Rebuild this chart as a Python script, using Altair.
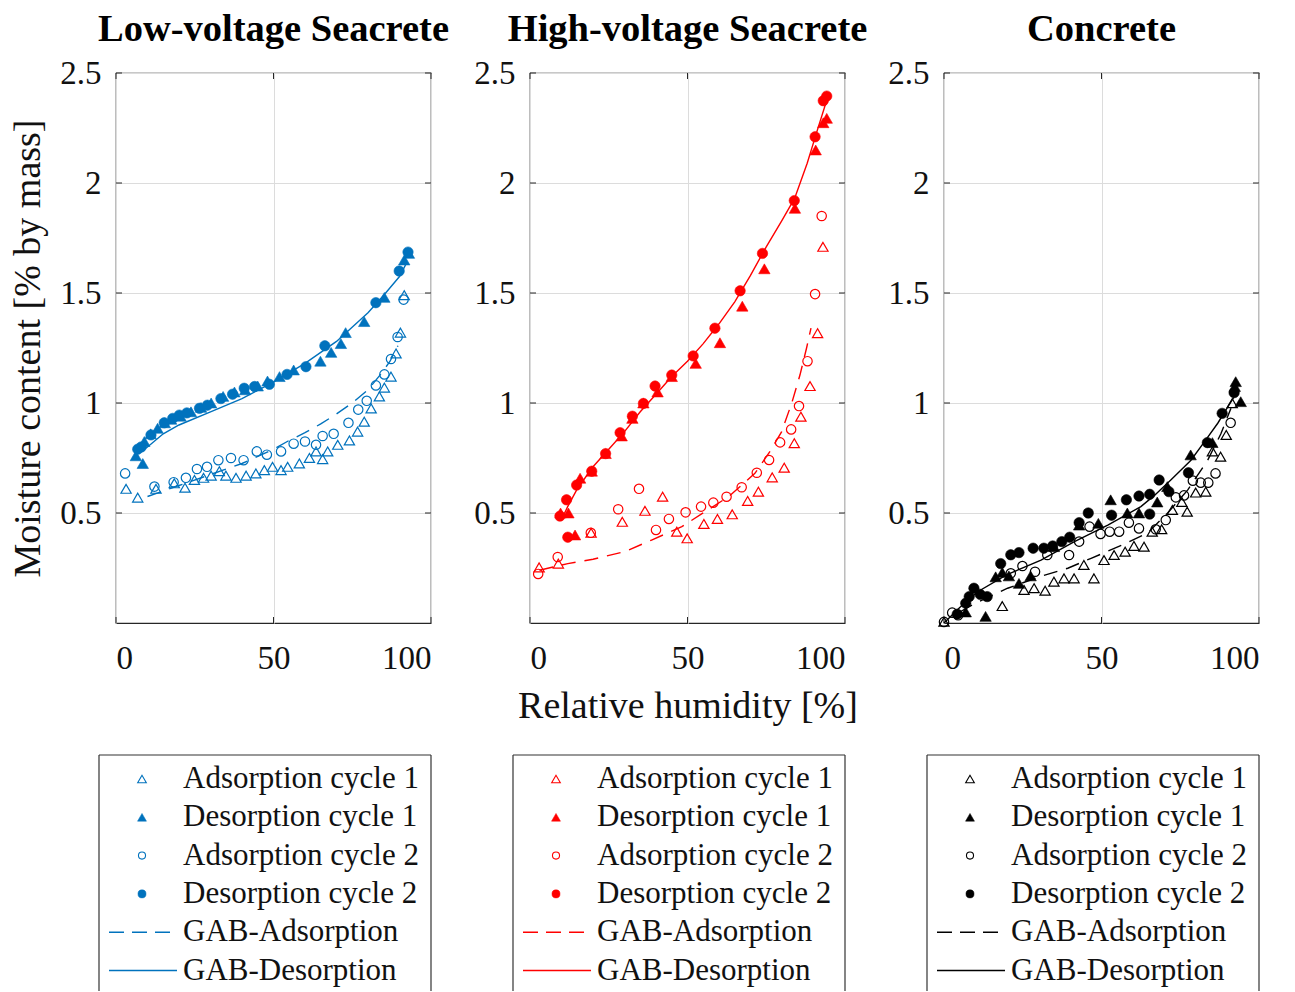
import altair as alt
import pandas as pd

FONT = "Liberation Serif"

# ---------------- Low-voltage Seacrete (blue) ----------------
lv_ads1_rh = [3.2, 6.9, 12.7, 18.5, 21.9, 24.9, 27.8, 30.2, 32.8, 34.9, 38.1, 41.3, 44.4, 47.1, 49.7, 52.4, 54.5,
              58.2, 61.4, 63.5, 65.6, 67.2, 70.4, 74.1, 76.7, 78.8, 81.0, 83.6, 85.2, 87.3, 88.9, 90.3, 91.5]
lv_ads1_mc = [0.61, 0.57, 0.61, 0.635, 0.615, 0.65, 0.66, 0.67, 0.69, 0.67, 0.66, 0.67, 0.68, 0.695, 0.71, 0.695, 0.71,
              0.725, 0.75, 0.78, 0.745, 0.78, 0.81, 0.83, 0.87, 0.915, 0.975, 1.03, 1.07, 1.12, 1.225, 1.32, 1.49]
lv_des1_rh = [6.3, 8.5, 9.0, 11.0, 13.2, 15.5, 17.5, 20.5, 23.8, 27.0, 30.2, 34.0, 37.6, 41.0, 45.0, 48.1, 51.9,
              56.4, 64.9, 68.3, 71.4, 72.9, 78.8, 85.2, 91.5, 93.0]
lv_des1_mc = [0.76, 0.725, 0.825, 0.86, 0.885, 0.91, 0.926, 0.94, 0.96, 0.98, 1.0, 1.03, 1.05, 1.06, 1.077, 1.10, 1.12,
              1.15, 1.19, 1.23, 1.27, 1.32, 1.37, 1.48, 1.65, 1.68]
lv_ads2_rh = [2.9, 12.2, 18.3, 22.2, 25.7, 28.9, 32.5, 36.5, 40.5, 44.7, 47.9, 52.4, 56.4, 60.0, 63.5, 65.6, 69.1,
              73.8, 76.9, 79.6, 82.5, 85.2, 87.3, 89.4, 91.3]
lv_ads2_mc = [0.68, 0.62, 0.64, 0.66, 0.70, 0.71, 0.74, 0.75, 0.74, 0.78, 0.765, 0.78, 0.815, 0.825, 0.81, 0.85, 0.86,
              0.91, 0.97, 1.01, 1.08, 1.13, 1.20, 1.30, 1.47]
lv_des2_rh = [6.9, 8.0, 11.1, 15.3, 18.0, 20.1, 22.5, 26.5, 29.0, 33.3, 37.0, 40.7, 44.0, 48.7, 54.3, 60.3, 66.3,
              82.5, 89.9, 92.7]
lv_des2_mc = [0.79, 0.80, 0.855, 0.91, 0.93, 0.945, 0.955, 0.976, 0.99, 1.02, 1.04, 1.067, 1.075, 1.085, 1.13, 1.165,
              1.26, 1.456, 1.60, 1.686]
lv_gab_ads_rh = [10, 20, 30, 40, 50, 55, 60, 65, 70, 75, 80, 84, 87, 89.5]
lv_gab_ads_mc = [0.575, 0.625, 0.675, 0.725, 0.79, 0.83, 0.865, 0.905, 0.95, 1.0, 1.06, 1.13, 1.19, 1.26]
lv_gab_des_rh = [8, 10, 15, 20, 30, 40, 50, 60, 70, 80, 85, 90, 92]
lv_gab_des_mc = [0.78, 0.80, 0.86, 0.90, 0.96, 1.02, 1.095, 1.18, 1.28, 1.41, 1.49, 1.575, 1.63]

# ---------------- High-voltage Seacrete (red) ----------------
hv_ads1_rh = [2.9, 9.0, 19.4, 29.3, 36.5, 42.1, 46.6, 49.9, 55.2, 59.5, 64.2, 69.1, 72.5, 76.9, 80.7, 83.9, 86.0,
              88.9, 91.3, 93.0]
hv_ads1_mc = [0.253, 0.27, 0.41, 0.46, 0.51, 0.574, 0.415, 0.385, 0.45, 0.473, 0.494, 0.555, 0.597, 0.662, 0.706,
              0.817, 0.938, 1.077, 1.317, 1.71]
hv_des1_rh = [9.7, 12.2, 14.3, 15.9, 19.6, 24.0, 29.1, 32.5, 36.0, 40.5, 45.0, 52.6, 60.3, 67.4, 74.4, 84.1, 90.7,
              93.1, 94.2]
hv_des1_mc = [0.50, 0.50, 0.40, 0.658, 0.69, 0.77, 0.85, 0.93, 1.0, 1.05, 1.12, 1.18, 1.274, 1.44, 1.61, 1.885, 2.15,
              2.274, 2.294]
hv_ads2_rh = [2.6, 8.8, 19.3, 28.0, 34.6, 40.0, 44.1, 49.4, 54.3, 58.2, 62.4, 67.2, 72.0, 75.9, 79.4, 82.9, 85.4,
              88.1, 90.5, 92.6]
hv_ads2_mc = [0.223, 0.30, 0.41, 0.517, 0.61, 0.423, 0.473, 0.503, 0.529, 0.547, 0.574, 0.617, 0.683, 0.741, 0.821,
              0.88, 0.986, 1.19, 1.495, 1.85]
hv_des2_rh = [9.5, 11.6, 12.0, 14.8, 19.6, 24.0, 28.6, 32.5, 36.0, 39.7, 45.0, 51.8, 58.7, 66.7, 73.8, 83.9, 90.5,
              93.1, 94.2]
hv_des2_mc = [0.486, 0.56, 0.39, 0.627, 0.69, 0.77, 0.865, 0.94, 0.998, 1.077, 1.127, 1.214, 1.34, 1.51, 1.68, 1.92,
              2.21, 2.374, 2.395]
hv_gab_ads_rh = [3, 12, 20, 30, 38.6, 48.2, 55.6, 63, 71.4, 76.2, 79.9, 83.1, 85.7, 87.8, 89.2]
hv_gab_ads_mc = [0.24, 0.27, 0.29, 0.324, 0.377, 0.438, 0.506, 0.574, 0.68, 0.78, 0.87, 1.0, 1.127, 1.25, 1.34]
hv_gab_des_rh = [10, 12, 15, 20, 25, 30, 35, 40, 45, 50, 55, 60, 65, 70, 75, 80, 84, 88, 91, 94.5]
hv_gab_des_mc = [0.47, 0.53, 0.61, 0.71, 0.79, 0.87, 0.96, 1.04, 1.12, 1.19, 1.27, 1.36, 1.46, 1.58, 1.71, 1.83,
                 1.93, 2.09, 2.23, 2.39]

# ---------------- Concrete (black) ----------------
cc_ads1_rh = [0.0, 18.5, 25.4, 28.6, 32.1, 34.9, 38.1, 41.3, 44.4, 47.6, 50.8, 54.0, 57.5, 60.3, 63.5, 66.1, 69.1,
              72.5, 75.5, 77.2, 79.9, 83.1, 85.2, 87.8, 89.6, 91.5]
cc_ads1_mc = [0.006, 0.077, 0.15, 0.158, 0.147, 0.188, 0.203, 0.203, 0.264, 0.203, 0.286, 0.309, 0.324, 0.35, 0.347,
              0.415, 0.426, 0.514, 0.55, 0.506, 0.593, 0.597, 0.78, 0.756, 0.855, 0.999]
cc_des1_rh = [6.9, 13.2, 16.4, 18.5, 20.6, 23.8, 27.5, 34.9, 42.9, 49.0, 52.9, 58.2, 61.9, 67.7, 70.9, 78.3, 85.2,
              92.3, 92.6, 94.2]
cc_des1_mc = [0.05, 0.03, 0.21, 0.23, 0.214, 0.18, 0.214, 0.347, 0.445, 0.453, 0.56, 0.50, 0.50, 0.55, 0.62, 0.764,
              0.82, 1.075, 1.097, 1.006]
cc_ads2_rh = [0.0, 2.6, 4.5, 21.2, 24.9, 28.9, 32.8, 39.7, 42.9, 46.2, 49.7, 52.6, 55.6, 58.7, 61.9, 67.2, 70.4,
              73.6, 76.2, 79.0, 81.5, 83.9, 86.2, 91.0]
cc_ads2_mc = [0.005, 0.047, 0.035, 0.226, 0.259, 0.233, 0.309, 0.309, 0.37, 0.438, 0.405, 0.415, 0.415, 0.456, 0.43,
              0.426, 0.468, 0.571, 0.58, 0.647, 0.638, 0.638, 0.68, 0.91]
cc_des2_rh = [4.2, 6.9, 8.0, 9.5, 11.5, 13.7, 18.0, 21.2, 23.8, 28.3, 31.7, 34.5, 37.4, 39.9, 42.9, 45.8, 53.2, 57.9,
              61.9, 65.3, 65.3, 68.3, 71.4, 77.6, 83.6, 88.3, 92.1]
cc_des2_mc = [0.04, 0.09, 0.12, 0.158, 0.13, 0.12, 0.27, 0.31, 0.32, 0.34, 0.34, 0.35, 0.37, 0.39, 0.456, 0.50, 0.49,
              0.56, 0.577, 0.585, 0.495, 0.65, 0.597, 0.683, 0.82, 0.953, 1.047]
cc_gab_ads_rh = [5, 10, 20.2, 30.3, 39.3, 46.7, 56.7, 64.7, 71, 77.4, 83.7, 87.9, 91.1]
cc_gab_ads_mc = [0.05, 0.09, 0.158, 0.21, 0.249, 0.294, 0.355, 0.41, 0.5, 0.605, 0.74, 0.86, 0.976]
cc_gab_des_rh = [0, 5, 10.7, 20, 30.8, 41.4, 52, 62.5, 66.8, 72, 78.4, 83, 86.9, 90, 92.2]
cc_gab_des_mc = [0.0, 0.07, 0.142, 0.22, 0.286, 0.37, 0.445, 0.529, 0.58, 0.65, 0.74, 0.83, 0.908, 0.98, 1.03]

x_ticks = [0, 50, 100]
y_ticks = [0.5, 1, 1.5, 2, 2.5]
legend_labels = ["Adsorption cycle 1", "Desorption cycle 1", "Adsorption cycle 2", "Desorption cycle 2",
                 "GAB-Adsorption", "GAB-Desorption"]

panel_titles = ["Low-voltage Seacrete", "High-voltage Seacrete", "Concrete"]
panel_colors = ["#0072BD", "#FF0000", "#000000"]

W, H = 315, 550
LH = 236
AXC = "#262626"


def xy_df(rh, mc):
    return pd.DataFrame({"rh": rh, "mc": mc})


def make_panel(idx, s):
    color = panel_colors[idx]
    xt = "Relative humidity [%]" if idx == 1 else None
    yt = "Moisture content [% by mass]" if idx == 0 else None
    x_axis = alt.Axis(values=x_ticks, format="d", grid=True, gridColor="#dcdcdc", gridWidth=1, ticks=False,
                      domain=False, labelFont=FONT, labelFontSize=33, labelColor="#111", labelPadding=19,
                      title=xt, titleFont=FONT, titleFontSize=38, titleFontWeight="normal", titleColor="#111",
                      titlePadding=12)
    y_axis = alt.Axis(values=y_ticks, format="~g", grid=True, gridColor="#dcdcdc", gridWidth=1, ticks=False,
                      domain=False, labelFont=FONT, labelFontSize=33, labelColor="#111", labelPadding=15,
                      title=yt, titleFont=FONT, titleFontSize=38, titleFontWeight="normal", titleColor="#111",
                      titlePadding=12)
    X = alt.X("rh:Q", scale=alt.Scale(domain=[0, 100], nice=False), axis=x_axis)
    Y = alt.Y("mc:Q", scale=alt.Scale(domain=[0, 2.5], nice=False), axis=y_axis)

    def pts(rh, mc, shape, filled, size):
        if filled:
            m = alt.Chart(xy_df(rh, mc)).mark_point(shape=shape, filled=True, fill=color, stroke=color,
                                                     strokeWidth=0.6, size=size, opacity=1)
        else:
            m = alt.Chart(xy_df(rh, mc)).mark_point(shape=shape, filled=False, stroke=color,
                                                     strokeWidth=1.2, size=size, opacity=1)
        return m.encode(x=X, y=Y)

    def line(rh, mc, dash):
        if dash:
            m = alt.Chart(xy_df(rh, mc)).mark_line(color=color, strokeWidth=1.4, strokeDash=[14, 9])
        else:
            m = alt.Chart(xy_df(rh, mc)).mark_line(color=color, strokeWidth=1.4)
        return m.encode(x=X, y=Y)

    ytk = pd.DataFrame({"mc": y_ticks})
    xtk = pd.DataFrame({"rh": x_ticks})
    tick_l = alt.Chart(ytk).mark_rule(color=AXC, strokeWidth=1).encode(y=Y, x=alt.value(0), x2=alt.value(6))
    tick_r = alt.Chart(ytk).mark_rule(color=AXC, strokeWidth=1).encode(y=Y, x=alt.value(W - 6), x2=alt.value(W))
    tick_b = alt.Chart(xtk).mark_rule(color=AXC, strokeWidth=1).encode(x=X, y=alt.value(H - 6), y2=alt.value(H))
    tick_t = alt.Chart(xtk).mark_rule(color=AXC, strokeWidth=1).encode(x=X, y=alt.value(0), y2=alt.value(6))

    layers = [
        tick_l, tick_r, tick_b, tick_t,
        pts(s[0], s[1], "triangle-up", False, 105),
        pts(s[2], s[3], "triangle-up", True, 130),
        pts(s[4], s[5], "circle", False, 88),
        pts(s[6], s[7], "circle", True, 108),
        line(s[8], s[9], True),
        line(s[10], s[11], False),
    ]
    return alt.layer(*layers).properties(
        width=W, height=H,
        view=alt.ViewBackground(stroke=AXC, strokeWidth=1.2, strokeOpacity=1),
        title=alt.TitleParams(text=panel_titles[idx], font=FONT, fontSize=38.5, fontWeight="bold", color="#000",
                              anchor="middle", offset=8),
    )


def make_legend(idx):
    color = panel_colors[idx]
    ldf = pd.DataFrame({"label": legend_labels})
    Yl = alt.Y("label:N", scale=alt.Scale(type="point", domain=legend_labels, range=[24, 215.5], padding=0),
               axis=None)
    base = alt.Chart(ldf)
    txt = base.mark_text(align="left", baseline="middle", font=FONT, fontSize=31, color="#111").encode(
        x=alt.value(67), y=Yl, text="label:N")

    def sym(label, shape, filled, size):
        if filled:
            m = base.mark_point(shape=shape, filled=True, fill=color, stroke=color, strokeWidth=0.5, size=size,
                                opacity=1)
        else:
            m = base.mark_point(shape=shape, filled=False, stroke=color, strokeWidth=1.1, size=size, opacity=1)
        return m.encode(x=alt.value(26), y=Yl).transform_filter(alt.datum.label == label)

    def lin(label, dash):
        if dash:
            m = base.mark_rule(color=color, strokeWidth=1.4, strokeDash=[15, 8])
        else:
            m = base.mark_rule(color=color, strokeWidth=1.4)
        return m.encode(x=alt.value(-7), x2=alt.value(61), y=Yl).transform_filter(alt.datum.label == label)

    one = alt.Chart(pd.DataFrame({"k": [0]}))
    box_l = one.mark_rule(color="#333", strokeWidth=1.2).encode(x=alt.value(-17), y=alt.value(0), y2=alt.value(LH))
    box_t = one.mark_rule(color="#333", strokeWidth=1.2).encode(x=alt.value(-17), x2=alt.value(W), y=alt.value(0))
    box_r = one.mark_rule(color="#333", strokeWidth=1.2).encode(x=alt.value(W), y=alt.value(0), y2=alt.value(LH))

    return alt.layer(
        box_l, box_t, box_r,
        sym(legend_labels[0], "triangle-up", False, 75),
        sym(legend_labels[1], "triangle-up", True, 80),
        sym(legend_labels[2], "circle", False, 50),
        sym(legend_labels[3], "circle", True, 65),
        lin(legend_labels[4], True),
        lin(legend_labels[5], False),
        txt,
    ).properties(width=W, height=LH, view=alt.ViewBackground(strokeOpacity=0))


series = [
    [lv_ads1_rh, lv_ads1_mc, lv_des1_rh, lv_des1_mc, lv_ads2_rh, lv_ads2_mc, lv_des2_rh, lv_des2_mc,
     lv_gab_ads_rh, lv_gab_ads_mc, lv_gab_des_rh, lv_gab_des_mc],
    [hv_ads1_rh, hv_ads1_mc, hv_des1_rh, hv_des1_mc, hv_ads2_rh, hv_ads2_mc, hv_des2_rh, hv_des2_mc,
     hv_gab_ads_rh, hv_gab_ads_mc, hv_gab_des_rh, hv_gab_des_mc],
    [cc_ads1_rh, cc_ads1_mc, cc_des1_rh, cc_des1_mc, cc_ads2_rh, cc_ads2_mc, cc_des2_rh, cc_des2_mc,
     cc_gab_ads_rh, cc_gab_ads_mc, cc_gab_des_rh, cc_gab_des_mc],
]

panels = [make_panel(i, series[i]) for i in range(3)]
legends = [make_legend(i) for i in range(3)]

chart = alt.concat(*panels, *legends, columns=3, spacing={"row": 132, "column": 99}, bounds="flush").properties(
    padding={"left": 9, "top": 8, "right": 0, "bottom": 0},
    background="white",
).configure_view(strokeOpacity=0)

chart.save("out.html", embed_options={"renderer": "svg", "actions": False})
